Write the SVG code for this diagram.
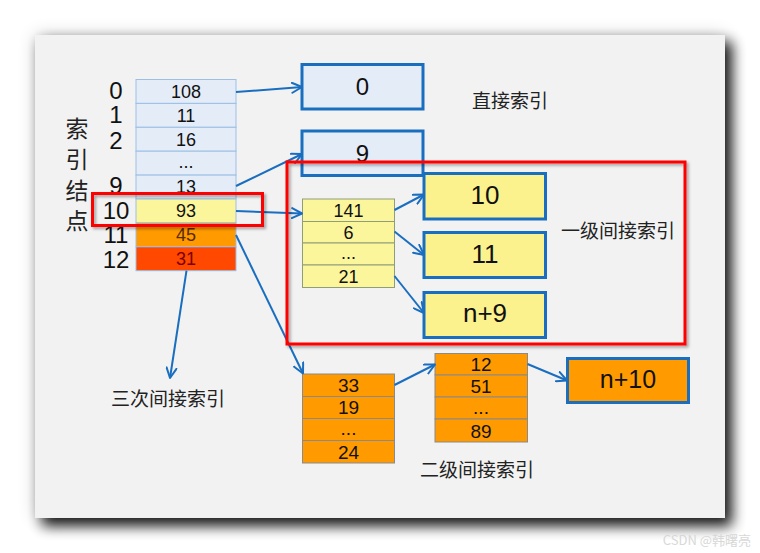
<svg xmlns="http://www.w3.org/2000/svg" width="760" height="553" viewBox="0 0 760 553">
<defs>
<filter id="blur1" x="-10%" y="-10%" width="120%" height="120%"><feGaussianBlur stdDeviation="7"/></filter>
<filter id="blur2" x="-10%" y="-10%" width="120%" height="120%"><feGaussianBlur stdDeviation="9"/></filter>
<filter id="rsh" x="-10%" y="-20%" width="120%" height="140%"><feDropShadow dx="2" dy="2" stdDeviation="1.5" flood-color="#000" flood-opacity="0.35"/></filter>
<marker id="arr" viewBox="0 0 12 12" refX="11" refY="6" markerWidth="12" markerHeight="12" markerUnits="userSpaceOnUse" orient="auto">
<path d="M1,1 L11,6 L1,11" fill="none" stroke="#1a6ec0" stroke-width="2" stroke-linecap="round" stroke-linejoin="round"/>
</marker>
</defs>
<style>
.t{font-family:"Liberation Sans","Noto Sans",Arial,sans-serif;fill:#111;text-anchor:middle}
.cn{font-family:"Noto Sans CJK SC","Noto Sans",sans-serif;fill:#222;font-size:19px}
.lb{stroke:#9cc0e4;stroke-width:1;fill:#e4ecf8}
.box{stroke:#1a6ec0;stroke-width:3}
.yb{fill:#fbf28e}
.bb{fill:#e4ecf8}
.ob{fill:#ff9a00}
.ycell{fill:#fbf59c;stroke:#8f9d78;stroke-width:1}
.ocell{fill:#ff9a00;stroke:#8a8a8a;stroke-width:1}
.c{fill:none;stroke:#1a6ec0;stroke-width:2;marker-end:url(#arr)}
.red{fill:none;stroke:#ff0000;stroke-width:3}
</style>
<rect width="760" height="553" fill="#ffffff"/>
<rect x="35" y="35" width="690" height="483" fill="#000" opacity="0.18" filter="url(#blur2)"/>
<rect x="42" y="42" width="690" height="484" fill="#000" opacity="0.9" filter="url(#blur1)"/>
<rect x="35" y="35" width="690" height="483" fill="#f2f2f2"/>

<g id="index-node">
<rect class="lb" x="136" y="79.5" width="100" height="23.9"/>
<rect class="lb" x="136" y="103.4" width="100" height="23.9"/>
<rect class="lb" x="136" y="127.3" width="100" height="23.9"/>
<rect class="lb" x="136" y="151.2" width="100" height="23.9"/>
<rect class="lb" x="136" y="175.1" width="100" height="23.9"/>
<rect x="136" y="199" width="100" height="23.9" fill="#fbf59c" stroke="#9cc0e4"/>
<rect x="136" y="222.9" width="100" height="23.9" fill="#ff9a00" stroke="#9cc0e4"/>
<rect x="136" y="246.8" width="100" height="23.9" fill="#ff4800" stroke="#9cc0e4"/>
<g class="t" font-size="18">
<text x="186" y="97.5">108</text>
<text x="186" y="121.5">11</text>
<text x="186" y="145.5">16</text>
<text x="186" y="168">...</text>
<text x="186" y="193">13</text>
<text x="186" y="217">93</text>
<text x="186" y="241" fill="#5a2a00">45</text>
<text x="186" y="264.5" fill="#7a0000">31</text>
</g>
<g class="t" font-size="24">
<text x="116" y="99">0</text>
<text x="116" y="123">1</text>
<text x="116" y="149">2</text>
<text x="116" y="194">9</text>
<text x="116" y="219">10</text>
<text x="116" y="243">11</text>
<text x="116" y="268">12</text>
</g>
<g font-family="Noto Sans CJK SC, sans-serif" font-size="23" fill="#222" text-anchor="middle">
<text x="77" y="137">索</text>
<text x="77" y="168">引</text>
<text x="77" y="199">结</text>
<text x="77" y="229">点</text>
</g>
</g>

<g id="direct-0">
<rect class="box bb" x="302" y="64.5" width="121" height="44.5"/>
<text class="t" x="362.5" y="95" font-size="24">0</text>
</g>
<g id="direct-9">
<rect class="box bb" x="302" y="131" width="121" height="44.5"/>
<text class="t" x="362.5" y="161.5" font-size="24">9</text>
</g>
<text class="cn" x="472" y="107.5">直接索引</text>

<g id="single-indirect-table">
<rect class="ycell" x="302.5" y="199" width="92" height="22.5"/>
<rect class="ycell" x="302.5" y="221.5" width="92" height="21.5"/>
<rect class="ycell" x="302.5" y="243" width="92" height="22"/>
<rect class="ycell" x="302.5" y="265" width="92" height="22.5"/>
<g class="t" font-size="18">
<text x="348.5" y="216.5">141</text>
<text x="348.5" y="238.5">6</text>
<text x="348.5" y="259">...</text>
<text x="348.5" y="282.5">21</text>
</g>
</g>
<g id="block-10">
<rect class="box yb" x="424" y="173.5" width="121.5" height="45.5"/>
<text class="t" x="485" y="204" font-size="26">10</text>
</g>
<g id="block-11">
<rect class="box yb" x="424" y="232.5" width="121.5" height="45"/>
<text class="t" x="485" y="263" font-size="26">11</text>
</g>
<g id="block-n9">
<rect class="box yb" x="424" y="292.5" width="121.5" height="45"/>
<text class="t" x="485" y="322" font-size="26">n+9</text>
</g>
<text class="cn" x="561" y="237.5">一级间接索引</text>

<g id="double-indirect-table1">
<rect class="ocell" x="302.5" y="374" width="92" height="22.5"/>
<rect class="ocell" x="302.5" y="396.5" width="92" height="22"/>
<rect class="ocell" x="302.5" y="418.5" width="92" height="22"/>
<rect class="ocell" x="302.5" y="440.5" width="92" height="22.5"/>
<g class="t" font-size="19" fill="#3a2000">
<text x="348.5" y="392">33</text>
<text x="348.5" y="414">19</text>
<text x="348.5" y="435">...</text>
<text x="348.5" y="458.5">24</text>
</g>
</g>
<g id="double-indirect-table2">
<rect class="ocell" x="435" y="353.5" width="92.5" height="21.5"/>
<rect class="ocell" x="435" y="375" width="92.5" height="22"/>
<rect class="ocell" x="435" y="397" width="92.5" height="22"/>
<rect class="ocell" x="435" y="419" width="92.5" height="23"/>
<g class="t" font-size="19" fill="#3a2000">
<text x="481" y="371">12</text>
<text x="481" y="393">51</text>
<text x="481" y="414">...</text>
<text x="481" y="437.5">89</text>
</g>
</g>
<g id="block-n10">
<rect class="box ob" x="567.5" y="358.5" width="121" height="44"/>
<text class="t" x="628" y="388" font-size="25" fill="#3a2000">n+10</text>
</g>
<text class="cn" x="420" y="476.5">二级间接索引</text>
<text class="cn" x="111" y="405.5">三次间接索引</text>

<g id="connectors">
<path class="c" d="M236,92 L302,87"/>
<path class="c" d="M236,186 L302,154"/>
<path class="c" d="M236,211 L302,213.5"/>
<path class="c" d="M236,235 L303,373.5"/>
<path class="c" d="M186.5,270.7 L170,378"/>
<path class="c" d="M394.5,210 L424,194.5"/>
<path class="c" d="M394.5,231.5 L424,255"/>
<path class="c" d="M394.5,276 L424,313"/>
<path class="c" d="M394.5,385 L435,364.5"/>
<path class="c" d="M527.5,364 L567,380.5"/>
</g>

<g id="highlights" filter="url(#rsh)">
<rect class="red" x="92.5" y="193.5" width="170" height="32"/>
<rect class="red" x="287" y="162" width="398" height="182"/>
</g>

<text x="751" y="545" font-family="Noto Sans CJK SC, sans-serif" font-size="13" fill="#d8d8d8" text-anchor="end">CSDN @韩曙亮</text>
</svg>
